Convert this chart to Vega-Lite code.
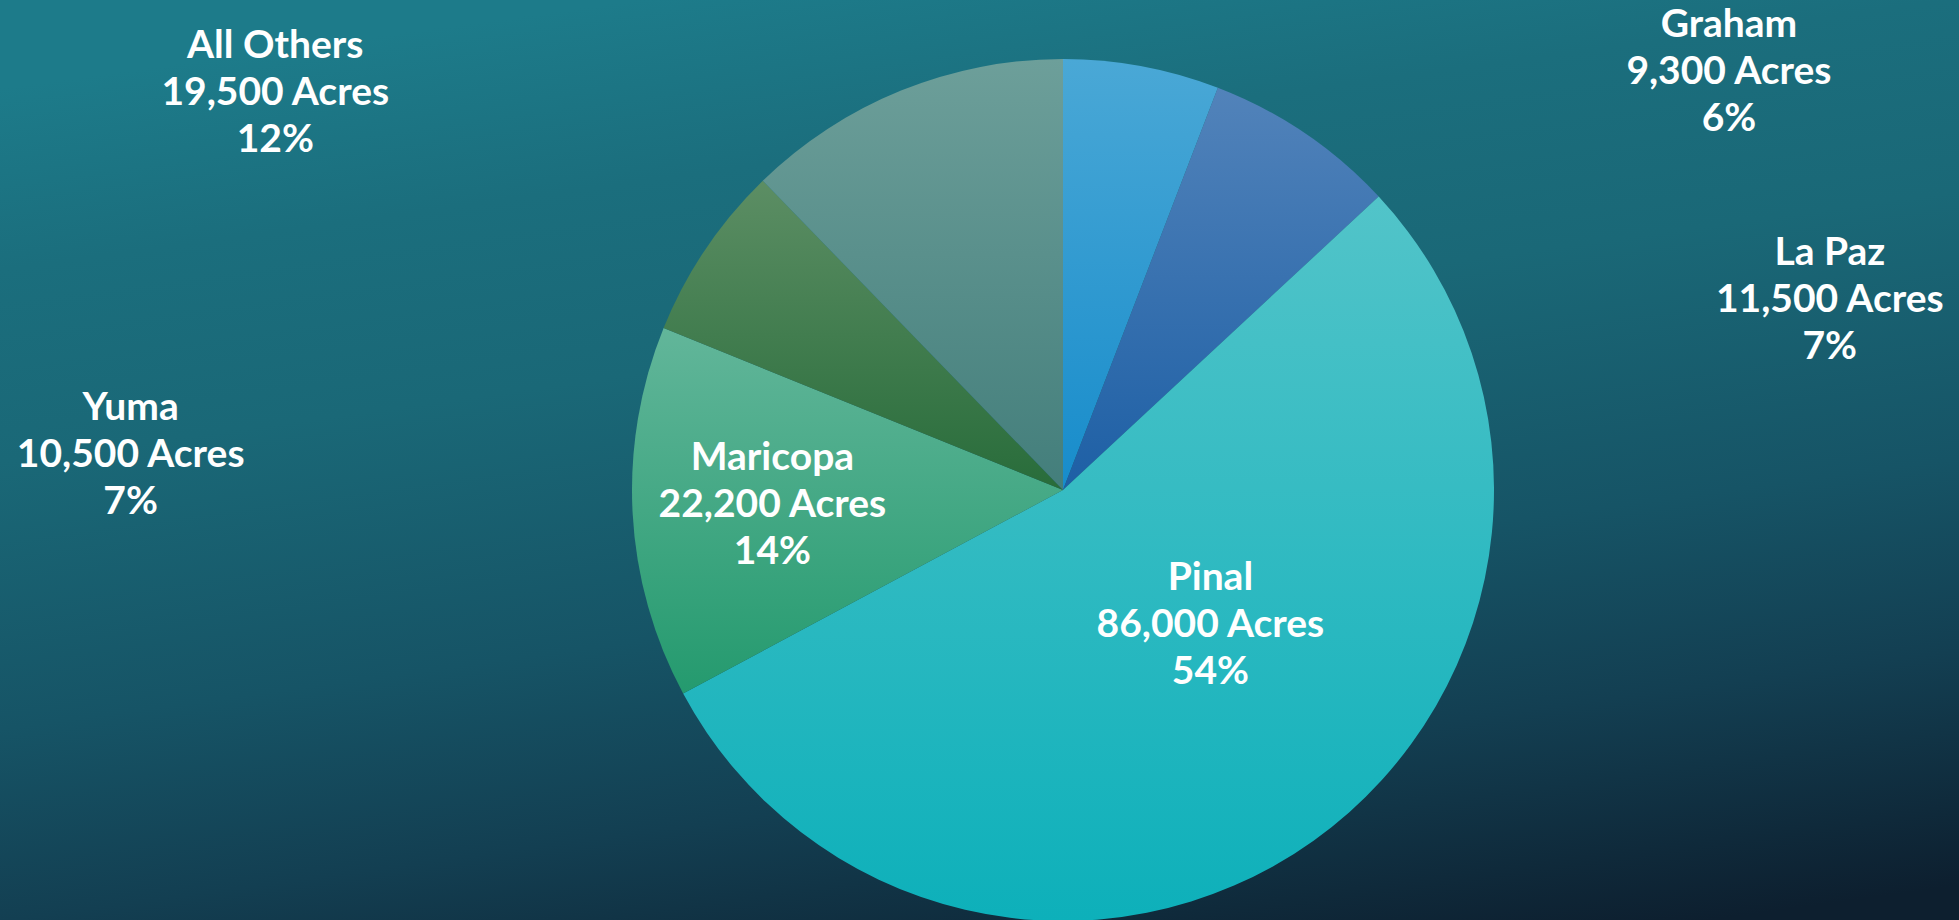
{
  "$schema": "https://vega.github.io/schema/vega-lite/v6.json",
  "width": 2126,
  "height": 980,
  "autosize": {"type": "none"},
  "padding": {"left": 0, "top": 0, "right": -167, "bottom": -60},
  "background": "#17596a",
  "config": {"view": {"stroke": null}},
  "data": {
    "values": [
      {"county": "Graham", "acres": 9300, "pct": 6, "rank": 1},
      {"county": "La Paz", "acres": 11500, "pct": 7, "rank": 2},
      {"county": "Pinal", "acres": 86000, "pct": 54, "rank": 3},
      {"county": "Maricopa", "acres": 22200, "pct": 14, "rank": 4},
      {"county": "Yuma", "acres": 10500, "pct": 7, "rank": 5},
      {"county": "All Others", "acres": 19500, "pct": 12, "rank": 6}
    ]
  },
  "layer": [
    {
      "data": {"values": [{"backdrop": "page"}]},
      "mark": {
        "type": "rect",
        "fill": {
          "gradient": "linear",
          "x1": 0.3, "y1": 0, "x2": 0.6, "y2": 1,
          "stops": [
            {"offset": 0, "color": "#1d7b8a"},
            {"offset": 0.17, "color": "#1b6e7d"},
            {"offset": 0.35, "color": "#1a6877"},
            {"offset": 0.6, "color": "#165466"},
            {"offset": 0.78, "color": "#133f52"},
            {"offset": 1, "color": "#0d1f2f"}
          ]
        }
      },
      "encoding": {}
    },
    {
      "mark": {"type": "arc", "outerRadius": 431},
      "encoding": {
        "theta": {"field": "acres", "type": "quantitative", "stack": true},
        "order": {"field": "rank", "type": "quantitative"},
        "detail": {"field": "county", "type": "nominal"},
        "fill": {
          "condition": [
            {"test": "datum.county === 'Graham'", "value": {"gradient": "linear", "x1": 0, "y1": 0, "x2": 0, "y2": 1, "stops": [{"offset": 0, "color": "#4aa8d6"}, {"offset": 1, "color": "#178ccb"}]}},
            {"test": "datum.county === 'La Paz'", "value": {"gradient": "linear", "x1": 0, "y1": 0, "x2": 0, "y2": 1, "stops": [{"offset": 0, "color": "#5283ba"}, {"offset": 1, "color": "#1d5fa5"}]}},
            {"test": "datum.county === 'Pinal'", "value": {"gradient": "linear", "x1": 0, "y1": 0, "x2": 0, "y2": 1, "stops": [{"offset": 0, "color": "#52c4c9"}, {"offset": 1, "color": "#0db0ba"}]}},
            {"test": "datum.county === 'Maricopa'", "value": {"gradient": "linear", "x1": 0, "y1": 0, "x2": 0, "y2": 1, "stops": [{"offset": 0, "color": "#62b69a"}, {"offset": 1, "color": "#249a6e"}]}},
            {"test": "datum.county === 'Yuma'", "value": {"gradient": "linear", "x1": 0, "y1": 0, "x2": 0, "y2": 1, "stops": [{"offset": 0, "color": "#5c8e64"}, {"offset": 1, "color": "#286c3a"}]}}
          ],
          "value": {"gradient": "linear", "x1": 0, "y1": 0, "x2": 0, "y2": 1, "stops": [{"offset": 0, "color": "#6d9f9a"}, {"offset": 1, "color": "#437e7b"}]}
        }
      }
    },
    {
      "mark": {
        "type": "text",
        "font": "Lato",
        "fontWeight": "bold",
        "fontSize": 39,
        "lineHeight": 47,
        "align": "center",
        "baseline": "middle",
        "dy": -47,
        "fill": "#ffffff",
        "text": {"expr": "[datum.county, format(datum.acres, ',') + ' Acres', datum.pct + '%']"},
        "radius": {"expr": "datum.county === 'Graham' ? 786 : datum.county === 'La Paz' ? 790 : datum.county === 'Pinal' ? 200 : datum.county === 'Maricopa' ? 291 : datum.county === 'Yuma' ? 933 : 882"},
        "thetaOffset": {"expr": "datum.county === 'Graham' ? 0.827 : datum.county === 'La Paz' ? 0.733 : datum.county === 'Pinal' ? -0.208 : datum.county === 'Maricopa' ? 0.003 : datum.county === 'Yuma' ? -0.555 : -0.719"}
      },
      "encoding": {
        "theta": {"field": "acres", "type": "quantitative", "stack": true},
        "order": {"field": "rank", "type": "quantitative"},
        "detail": {"field": "county", "type": "nominal"}
      }
    }
  ]
}
